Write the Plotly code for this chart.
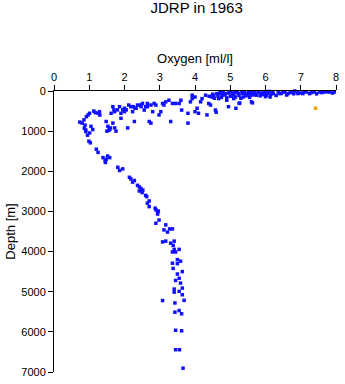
import plotly.graph_objects as go

# Oxygen profile (ml/l) versus depth (m), JDRP 1963 stations
oxygen = [
    # deep branch and oxygen-minimum layer
    0.73, 0.85, 0.88, 0.9, 0.86, 0.97, 1.01, 1.01, 0.99, 1.03, 1.1, 1.13, 1.25,
    1.2, 1.25, 1.29, 1.39, 1.48, 1.58, 1.46, 1.48, 1.53, 1.58, 1.5, 1.62, 1.67,
    1.72, 1.76, 1.67, 1.72, 1.81, 1.86, 1.95, 1.86, 1.9, 1.9, 2.0, 2.0, 2.09,
    2.14, 2.18, 2.23, 2.28, 2.18, 2.23, 2.28, 2.33, 2.37, 2.37, 2.42, 2.47, 2.52,
    2.6, 2.47, 2.51, 2.56, 2.6, 2.65, 2.7, 2.75, 2.75, 2.8, 2.84, 2.89, 2.98,
    3.03, 3.08, 3.12, 3.17, 3.26, 3.31, 3.36, 3.45, 3.55, 3.6, 3.62, 3.8, 3.8,
    3.87, 3.92, 3.92, 4.0, 4.0, 4.06, 4.1, 4.16, 4.2, 4.3, 4.34, 4.39, 4.44,
    4.48, 4.53, 4.58, 4.6, 4.62, 4.67, 4.72, 4.77, 4.86, 4.9, 4.95, 5.0, 5.05,
    5.1, 5.14, 5.16, 5.23, 5.25, 5.33, 5.37, 5.42, 5.52, 5.56, 5.63, 5.7, 5.75,
    5.89, 5.98, 6.03, 6.08, 6.13, 6.22, 6.36, 6.4, 6.55, 6.64, 6.73, 6.83, 6.92,
    7.06, 7.16, 7.25, 7.39, 7.53, 7.67, 7.81, 7.95,
    # extra samples around the minimum layer
    0.8, 0.92, 0.95, 1.05, 0.9, 1.17, 1.3, 1.55, 1.6, 1.7, 1.52, 1.8, 1.45,
    2.05, 2.12, 2.25, 1.95, 2.45, 2.65, 2.3,
    # surface layer
    4.4, 4.5, 4.55, 4.65, 4.7, 4.75, 4.8, 4.85, 4.9, 4.95, 5.0, 5.05, 5.1, 5.15,
    5.2, 5.25, 5.3, 5.35, 5.4, 5.45, 5.5, 5.55, 5.6, 5.65, 5.7, 5.8, 5.85, 5.9,
    5.95, 6.0, 6.05, 6.1, 6.15, 6.2, 6.3, 6.45, 6.5, 6.6, 6.7, 6.8, 6.9, 7.0,
    7.1, 7.3, 7.45, 7.6, 7.75, 7.9, 5.27, 5.6,
    # deep water
    2.42, 2.5, 2.47, 2.63, 2.65, 2.7, 2.7, 2.87, 2.89, 2.94, 2.96, 2.94, 2.89,
    2.98, 3.17, 3.12, 3.22, 3.28, 3.36, 3.08, 3.17, 3.31, 3.41, 3.38, 3.36, 3.41,
    3.45, 3.55, 3.5, 3.59, 3.5, 3.36, 3.38, 3.64, 3.5, 3.55, 3.45, 3.59, 3.64,
    3.41, 3.41, 3.55, 3.64, 3.08, 3.69, 3.43, 3.43, 3.55, 3.62, 3.45, 3.62, 3.45,
    3.56, 3.66,
]
depth = [
    775, 720, 850, 970, 930, 595, 555, 1045, 1250, 1290, 960, 500, 555,
    1450, 1530, 515, 1660, 1700, 1660, 1780, 760, 880, 960, 1000, 555, 800,
    920, 1000, 390, 515, 1900, 1980, 1940, 390, 555, 680, 430, 515, 920,
    2150, 2190, 2270, 2230, 390, 515, 760, 430, 350, 2350, 2390, 2430, 2470,
    2600, 390, 310, 475, 390, 310, 760, 800, 350, 515, 310, 350, 595,
    515, 310, 350, 270, 230, 760, 310, 310, 310, 230, 475, 800, 555,
    270, 105, 190, 150, 515, 430, 555, 270, 190, 105, 595, 310, 350,
    150, 105, 475, 530, 65, 190, 25, 105, 65, 230, 390, 25, 105,
    190, 25, 430, 65, 310, 25, 150, 65, 25, 105, 295, 25, 105,
    65, 25, 105, 25, 150, 65, 25, 65, 25, 65, 25, 0, 65,
    65, 25, 65, 25, 25, 25, 25, 25,
    800, 640, 1100, 880, 1010, 540, 600, 980, 920, 470, 1620, 470, 1740,
    470, 350, 390, 470, 350, 390, 430,
    130, 80, 180, 120, 60, 160, 30, 100, 170, 50, 130, 20, 80, 150,
    40, 110, 180, 60, 20, 120, 70, 160, 40, 100, 70, 30, 120, 50,
    90, 140, 50, 10, 90, 40, 110, 60, 20, 100, 40, 70, 30, 50,
    20, 40, 70, 40, 20, 50, 300, 270,
    2490, 2530, 2475, 2630, 2795, 2740, 2880, 2920, 2960, 3010, 2990, 3065, 3295,
    3215, 3335, 3460, 3515, 3435, 3435, 3760, 3740, 3790, 3740, 3845, 4010, 3945,
    4010, 3945, 4200, 4240, 4300, 4290, 4420, 4500, 4560, 4665, 4720, 4785, 4910,
    4935, 5010, 4990, 5075, 5220, 5215, 5280, 5510, 5470, 5550, 5960, 5975, 6445,
    6445, 6905,
]

# single flagged sample
flag_oxygen = [7.42]
flag_depth = [430]

x_ticks = [0, 1, 2, 3, 4, 5, 6, 7, 8]
y_ticks = [0, 1000, 2000, 3000, 4000, 5000, 6000, 7000]

fig = go.Figure()
fig.add_trace(go.Scatter(
    x=oxygen, y=depth, mode="markers",
    marker=dict(symbol="square", size=3.5, color="#1010ff", line=dict(width=0)),
    cliponaxis=False, showlegend=False,
))
fig.add_trace(go.Scatter(
    x=flag_oxygen, y=flag_depth, mode="markers",
    marker=dict(symbol="square", size=3.5, color="#f5a000", line=dict(width=0)),
    cliponaxis=False, showlegend=False,
))

font = dict(family="Liberation Sans, Arial, sans-serif", size=11, color="black")

fig.update_layout(
    width=345, height=384,
    margin=dict(l=54, r=6, t=91, b=7),
    paper_bgcolor="white", plot_bgcolor="white",
    font=font,
    title=dict(text="JDRP in 1963", x=0.57, xanchor="center", y=0.993, yanchor="top",
               font=dict(family="Liberation Sans, Arial, sans-serif", size=15)),
    xaxis=dict(
        side="top", range=[0, 8], tickvals=x_ticks, ticktext=[str(v) for v in x_ticks],
        showgrid=False, zeroline=False, showline=True, linecolor="black", linewidth=1,
        ticks="outside", ticklen=5, tickcolor="black",
        title=dict(text="Oxygen [ml/l]", standoff=4),
    ),
    yaxis=dict(
        range=[7000, 0], tickvals=y_ticks, ticktext=[str(v) for v in y_ticks],
        showgrid=False, zeroline=False, showline=True, linecolor="black", linewidth=1,
        ticks="outside", ticklen=5, tickcolor="black",
        title=dict(text="Depth [m]", standoff=2),
    ),
)

fig.write_html("out.html")
